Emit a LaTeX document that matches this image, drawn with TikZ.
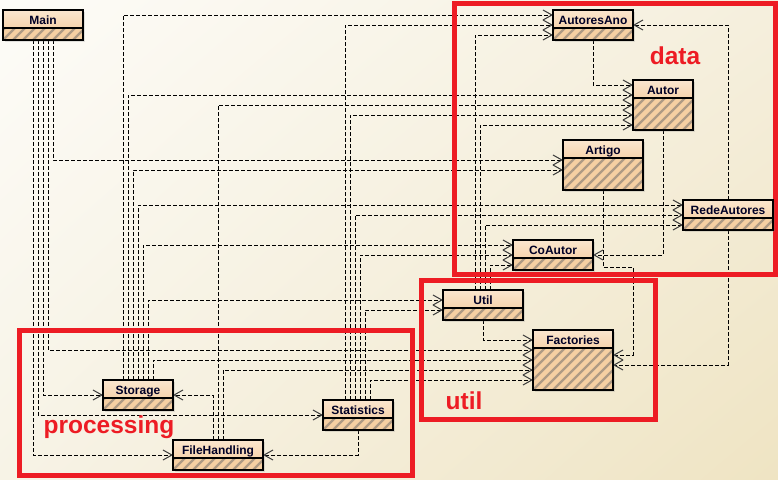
\documentclass[tikz,border=0pt]{standalone}
\usepackage{fontspec}
\setmainfont{Liberation Sans}
\usetikzlibrary{arrows.meta,calc,shadows,shadings}
\definecolor{redframe}{HTML}{ED1C24}
\definecolor{headtop}{HTML}{FBE6CF}
\definecolor{headbot}{HTML}{F6D3AC}
\definecolor{hatchbg}{HTML}{F5CFA2}
\definecolor{hatchln}{HTML}{AE9A84}
\definecolor{bgA}{HTML}{FDFCF8}
\definecolor{bgB}{HTML}{F5EFDD}
\definecolor{bgC}{HTML}{F7F3E6}
\definecolor{bgD}{HTML}{EFE4C3}
\definecolor{tipcol}{HTML}{3A3A3A}
\tikzset{
  clsbox/.style={rectangle, inner sep=0pt, outer sep=0pt, fill=hatchbg,
    drop shadow={opacity=0.22, shadow xshift=2pt, shadow yshift=-2pt}},
  boxline/.style={draw=black, line width=1.2pt},
  hatchstroke/.style={draw=hatchln, line width=2.4pt},
  clstext/.style={font=\bfseries\fontsize{12}{14}\selectfont, text=black!85!blue, inner sep=0pt},
  dep/.style={draw=black, line width=0.9pt, dash pattern=on 4pt off 2pt,
    -{Straight Barb[length=9pt,width=10pt,line width=1pt,color=tipcol]}},
  pkgframe/.style={draw=redframe, line width=5pt},
  pkglabel/.style={text=redframe, font=\bfseries\fontsize{24.5}{28}\selectfont, inner sep=0pt, anchor=base},
}
\newcommand{\umlclass}[6]{%
  \node[clsbox, anchor=north west, minimum width=#4pt, minimum height=#5pt] (#1) at (#2,#3) {};
  \begin{scope}
    \clip ($(#1.north west)+(0,18)$) rectangle (#1.south east);
    \foreach \k in {-6,...,10} {\draw[hatchstroke] ($(#1.south west)+(\k*10,0)$) -- ++(60,-60);}
  \end{scope}
  \shade[top color=headtop, bottom color=headbot] (#1.north west) rectangle ($(#1.north east)+(0,18)$);
  \draw[boxline] (#1.north west) rectangle (#1.south east);
  \draw[boxline] ($(#1.north west)+(0,18)$) -- ($(#1.north east)+(0,18)$);
  \node[clstext, anchor=base] (#1-label) at ($(#1.north)+(0,14.5)$) {#6};
}
\begin{document}
\begin{tikzpicture}[x=1pt,y=-1pt]
\useasboundingbox (0,0) rectangle (778,479);
\shade[upper left=bgA, upper right=bgB, lower left=bgC, lower right=bgD] (0,0) rectangle (778,479);

% invisible placeholders for node geometry (real boxes drawn later)
\begin{scope}[every node/.style={rectangle, inner sep=0pt, outer sep=0pt, anchor=north west}]
  \node[minimum width=80pt, minimum height=30pt] (main) at (3,10) {};
  \node[minimum width=80pt, minimum height=30pt] (autoresano) at (553,10) {};
  \node[minimum width=60pt, minimum height=50pt] (autor) at (633,80) {};
  \node[minimum width=80pt, minimum height=50pt] (artigo) at (563,140) {};
  \node[minimum width=90pt, minimum height=30pt] (redeautores) at (683,200) {};
  \node[minimum width=80pt, minimum height=30pt] (coautor) at (513,240) {};
  \node[minimum width=80pt, minimum height=30pt] (util) at (443,290) {};
  \node[minimum width=80pt, minimum height=60pt] (factories) at (533,330) {};
  \node[minimum width=70pt, minimum height=30pt] (storage) at (103,380) {};
  \node[minimum width=70pt, minimum height=30pt] (statistics) at (323,400) {};
  \node[minimum width=90pt, minimum height=30pt] (filehandling) at (173,440) {};
\end{scope}

% Main
\draw[dep] ($(main.south west)+(50,0)$) |- ($(artigo.north west)+(0,20)$);
\draw[dep] ($(main.south west)+(45,0)$) |- ($(factories.north west)+(0,20)$);
\draw[dep] ($(main.south west)+(40,0)$) |- ($(storage.north west)+(0,15)$);
\draw[dep] ($(main.south west)+(35,0)$) |- ($(statistics.north west)+(0,15)$);
\draw[dep] ($(main.south west)+(30,0)$) |- ($(filehandling.north west)+(0,15)$);
% Storage
\draw[dep] ($(storage.north west)+(20,0)$) |- ($(autoresano.north west)+(0,5)$);
\draw[dep] ($(storage.north west)+(25,0)$) |- ($(autor.north west)+(0,15)$);
\draw[dep] ($(storage.north west)+(30,0)$) |- ($(artigo.north west)+(0,30)$);
\draw[dep] ($(storage.north west)+(35,0)$) |- ($(redeautores.north west)+(0,5)$);
\draw[dep] ($(storage.north west)+(40,0)$) |- ($(coautor.north west)+(0,5)$);
\draw[dep] ($(storage.north west)+(45,0)$) |- ($(util.north west)+(0,10)$);
\draw[dep] ($(storage.north west)+(50,0)$) |- ($(factories.north west)+(0,30)$);
% FileHandling
\draw[dep] ($(filehandling.north west)+(40,0)$) |- ($(storage.north east)+(0,15)$);
\draw[dep] ($(filehandling.north west)+(45,0)$) |- ($(autor.north west)+(0,25)$);
\draw[dep] ($(filehandling.north west)+(50,0)$) |- ($(factories.north west)+(0,40)$);
% Statistics
\draw[dep] ($(statistics.north west)+(22,0)$) |- ($(autoresano.north west)+(0,15)$);
\draw[dep] ($(statistics.north west)+(27,0)$) |- ($(autor.north west)+(0,35)$);
\draw[dep] ($(statistics.north west)+(32,0)$) |- ($(redeautores.north west)+(0,15)$);
\draw[dep] ($(statistics.north west)+(37,0)$) |- ($(coautor.north west)+(0,15)$);
\draw[dep] ($(statistics.north west)+(42,0)$) |- ($(util.north west)+(0,20)$);
\draw[dep] ($(statistics.north west)+(47,0)$) |- ($(factories.north west)+(0,50)$);
\draw[dep] ($(statistics.south west)+(35,0)$) |- ($(filehandling.north east)+(0,15)$);
% Util
\draw[dep] ($(util.north west)+(32,0)$) |- ($(autoresano.north west)+(0,25)$);
\draw[dep] ($(util.north west)+(37,0)$) |- ($(autor.north west)+(0,45)$);
\draw[dep] ($(util.north west)+(42,0)$) |- ($(redeautores.north west)+(0,25)$);
\draw[dep] ($(util.north west)+(47,0)$) |- ($(coautor.north west)+(0,25)$);
\draw[dep] ($(util.south west)+(40,0)$) |- ($(factories.north west)+(0,10)$);
% data package
\draw[dep] ($(autoresano.south west)+(40,0)$) |- ($(autor.north west)+(0,5)$);
\draw[dep] ($(autor.south west)+(30,0)$) |- ($(coautor.north east)+(0,15)$);
\draw[dep] ($(artigo.south west)+(40,0)$) |- ($(artigo.south west)+(70,77)$) |- ($(factories.north east)+(0,25)$);
\draw[dep] ($(redeautores.north west)+(45,0)$) |- ($(autoresano.north east)+(0,15)$);
\draw[dep] ($(redeautores.south west)+(45,0)$) |- ($(factories.north east)+(0,35)$);

% package frames
\draw[pkgframe] (454.5,3.5) rectangle (775.5,274);
\draw[pkgframe] (421,280.5) rectangle (655.5,419);
\draw[pkgframe] (19,330) rectangle (412.5,475.5);
\node[pkglabel] (lbldata) at (675,64) {data};
\node[pkglabel] (lblutil) at (464,409) {util};
\node[pkglabel] (lblproc) at (109,433.5) {processing};

% classes
\umlclass{main}{3}{10}{80}{30}{Main}
\umlclass{autoresano}{553}{10}{80}{30}{AutoresAno}
\umlclass{autor}{633}{80}{60}{50}{Autor}
\umlclass{artigo}{563}{140}{80}{50}{Artigo}
\umlclass{redeautores}{683}{200}{90}{30}{RedeAutores}
\umlclass{coautor}{513}{240}{80}{30}{CoAutor}
\umlclass{util}{443}{290}{80}{30}{Util}
\umlclass{factories}{533}{330}{80}{60}{Factories}
\umlclass{storage}{103}{380}{70}{30}{Storage}
\umlclass{statistics}{323}{400}{70}{30}{Statistics}
\umlclass{filehandling}{173}{440}{90}{30}{FileHandling}
\end{tikzpicture}
\end{document}
